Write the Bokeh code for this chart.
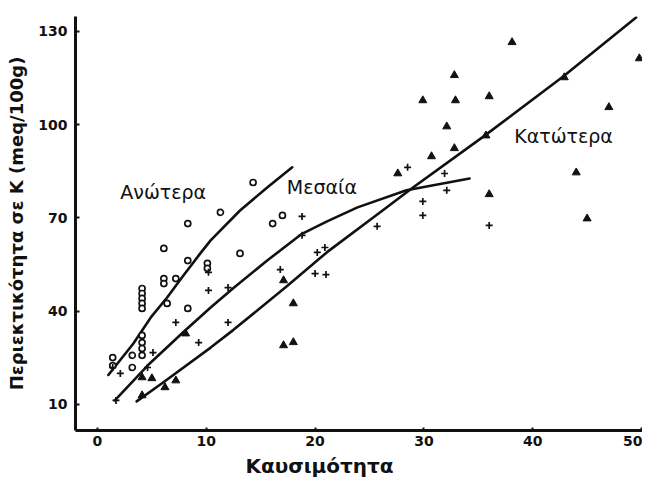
from bokeh.plotting import figure
from bokeh.models import Label, FixedTicker, Range1d, Title
from bokeh.embed import file_html
from bokeh.resources import INLINE

# ---- data ----
# Ανώτερα (open circles)
anot_x = [11.3, 8.3, 6.1, 8.3, 10.1, 10.1, 13.1, 6.1, 6.1, 7.2, 6.4, 4.1, 4.1, 4.1, 4.1, 4.1,
          8.3, 4.1, 4.1, 4.1, 3.2, 1.4, 3.2, 1.4, 14.3, 16.1, 17.0, 4.1]
anot_y = [71.8, 68.2, 60.2, 56.3, 55.4, 53.8, 58.6, 50.5, 48.9, 50.5, 42.5, 47.3, 45.7, 44.1, 42.5, 40.9,
          40.9, 29.9, 28.0, 25.8, 25.8, 25.1, 21.9, 22.5, 81.4, 68.2, 70.8, 32.2]
# Μεσαία (crosses)
mes_x = [18.8, 18.8, 20.2, 20.9, 20.0, 21.0, 16.8, 25.7, 28.5, 29.9, 29.9, 32.1, 31.9, 36.0,
         10.2, 12.0, 12.0, 9.3, 7.2, 5.1, 4.6, 2.1, 1.7, 1.4, 10.2]
mes_y = [70.5, 64.4, 58.9, 60.5, 52.1, 51.8, 53.4, 67.3, 86.3, 75.3, 70.8, 78.9, 84.3, 67.6,
         46.7, 47.6, 36.4, 29.9, 36.4, 26.7, 21.9, 20.0, 11.3, 21.9, 52.5]
# Κατώτερα (filled triangles)
kat_x = [38.1, 49.8, 32.8, 42.9, 29.9, 32.9, 36.0, 47.0, 32.1, 35.7, 32.8, 30.7, 27.6, 44.0,
         36.0, 45.0, 18.0, 17.1, 18.0, 17.1, 4.1, 5.0, 6.2, 7.2, 4.1, 8.1]
kat_y = [126.5, 121.3, 115.9, 115.2, 107.8, 107.8, 109.1, 105.6, 99.4, 96.5, 92.4, 89.8, 84.3, 84.6,
         77.6, 69.8, 42.5, 29.0, 30.0, 49.9, 18.7, 18.4, 15.5, 17.7, 12.9, 32.8]

# fitted curves
anot_curve_x = [1.0, 3.3, 4.9, 6.4, 7.9, 9.45, 10.4, 13.1, 15.6, 17.9]
anot_curve_y = [19.5, 29.6, 38.0, 44.4, 51.5, 58.6, 62.8, 72.4, 79.8, 86.3]
mes_curve_x = [1.6, 4.8, 7.9, 10.4, 12.5, 15.6, 18.7, 21.1, 23.9, 28.4, 34.2]
mes_curve_y = [11.3, 23.2, 33.3, 41.2, 47.5, 56.3, 64.7, 68.9, 73.4, 78.9, 82.7]
kat_curve_x = [3.6, 6.0, 10.4, 12.5, 17.4, 21.1, 26.2, 29.0, 35.4, 42.8, 49.5]
kat_curve_y = [11.0, 17.0, 28.3, 34.0, 48.0, 59.0, 72.4, 79.8, 96.0, 115.5, 134.5]

x_ticks = [0, 10, 20, 30, 40, 50]
y_ticks = [10, 40, 70, 100, 130]

series_labels = ["Ανώτερα", "Μεσαία", "Κατώτερα"]
label_x = [2.1, 17.4, 38.3]
label_y = [78.2, 79.8, 96.5]

x_title = "Καυσιμότητα"
y_title = "Περιεκτικότητα σε K (meq/100g)"

FONT = "DejaVu Sans"
INK = "#111111"

p = figure(width=642, height=480, output_backend="svg", toolbar_location=None,
           x_range=Range1d(-2.02, 50.09), y_range=Range1d(1.63, 134.8),
           min_border_left=75, min_border_right=0, min_border_top=16, min_border_bottom=50)
p.outline_line_color = None
p.grid.visible = False
p.background_fill_color = "white"

for ax in (p.xaxis[0], p.yaxis[0]):
    ax.axis_line_width = 3
    ax.axis_line_color = INK
    ax.major_tick_line_color = INK
    ax.major_tick_line_width = 2
    ax.minor_tick_line_color = None
    ax.major_label_text_font = FONT
    ax.major_label_text_font_style = "bold"
    ax.major_label_text_font_size = "14px"
    ax.major_label_text_color = INK

p.xaxis.ticker = FixedTicker(ticks=x_ticks)
p.yaxis.ticker = FixedTicker(ticks=y_ticks)
p.xaxis.major_tick_in = 3
p.xaxis.major_tick_out = 0
p.yaxis.major_tick_in = 4
p.yaxis.major_tick_out = 0
p.xaxis.major_label_standoff = 5
p.yaxis.major_label_standoff = 8

p.yaxis.axis_label = y_title
p.yaxis.axis_label_text_font = FONT
p.yaxis.axis_label_text_font_style = "bold"
p.yaxis.axis_label_text_font_size = "18px"
p.yaxis.axis_label_text_color = INK
p.yaxis.axis_label_standoff = 8

p.add_layout(Title(text=x_title, align="left", offset=170, standoff=6,
                   text_font=FONT, text_font_size="20px", text_font_style="bold",
                   text_color=INK), "below")

# curves
for cx, cy in ((anot_curve_x, anot_curve_y), (mes_curve_x, mes_curve_y), (kat_curve_x, kat_curve_y)):
    p.line(cx, cy, line_color=INK, line_width=2.6, line_join="round", line_cap="round")

# points
p.scatter(anot_x, anot_y, marker="circle", size=6, fill_color="white",
          line_color=INK, line_width=1.7)
p.scatter(mes_x, mes_y, marker="cross", size=7, line_color=INK, line_width=1.7)
p.scatter(kat_x, kat_y, marker="triangle", size=8, fill_color=INK,
          line_color=INK, line_width=1)

for t, lx, ly in zip(series_labels, label_x, label_y):
    p.add_layout(Label(x=lx, y=ly, text=t, text_font=FONT, text_font_size="19px",
                       text_color=INK, text_baseline="middle", text_align="left"))

open("out.html", "w").write(file_html(p, INLINE))
